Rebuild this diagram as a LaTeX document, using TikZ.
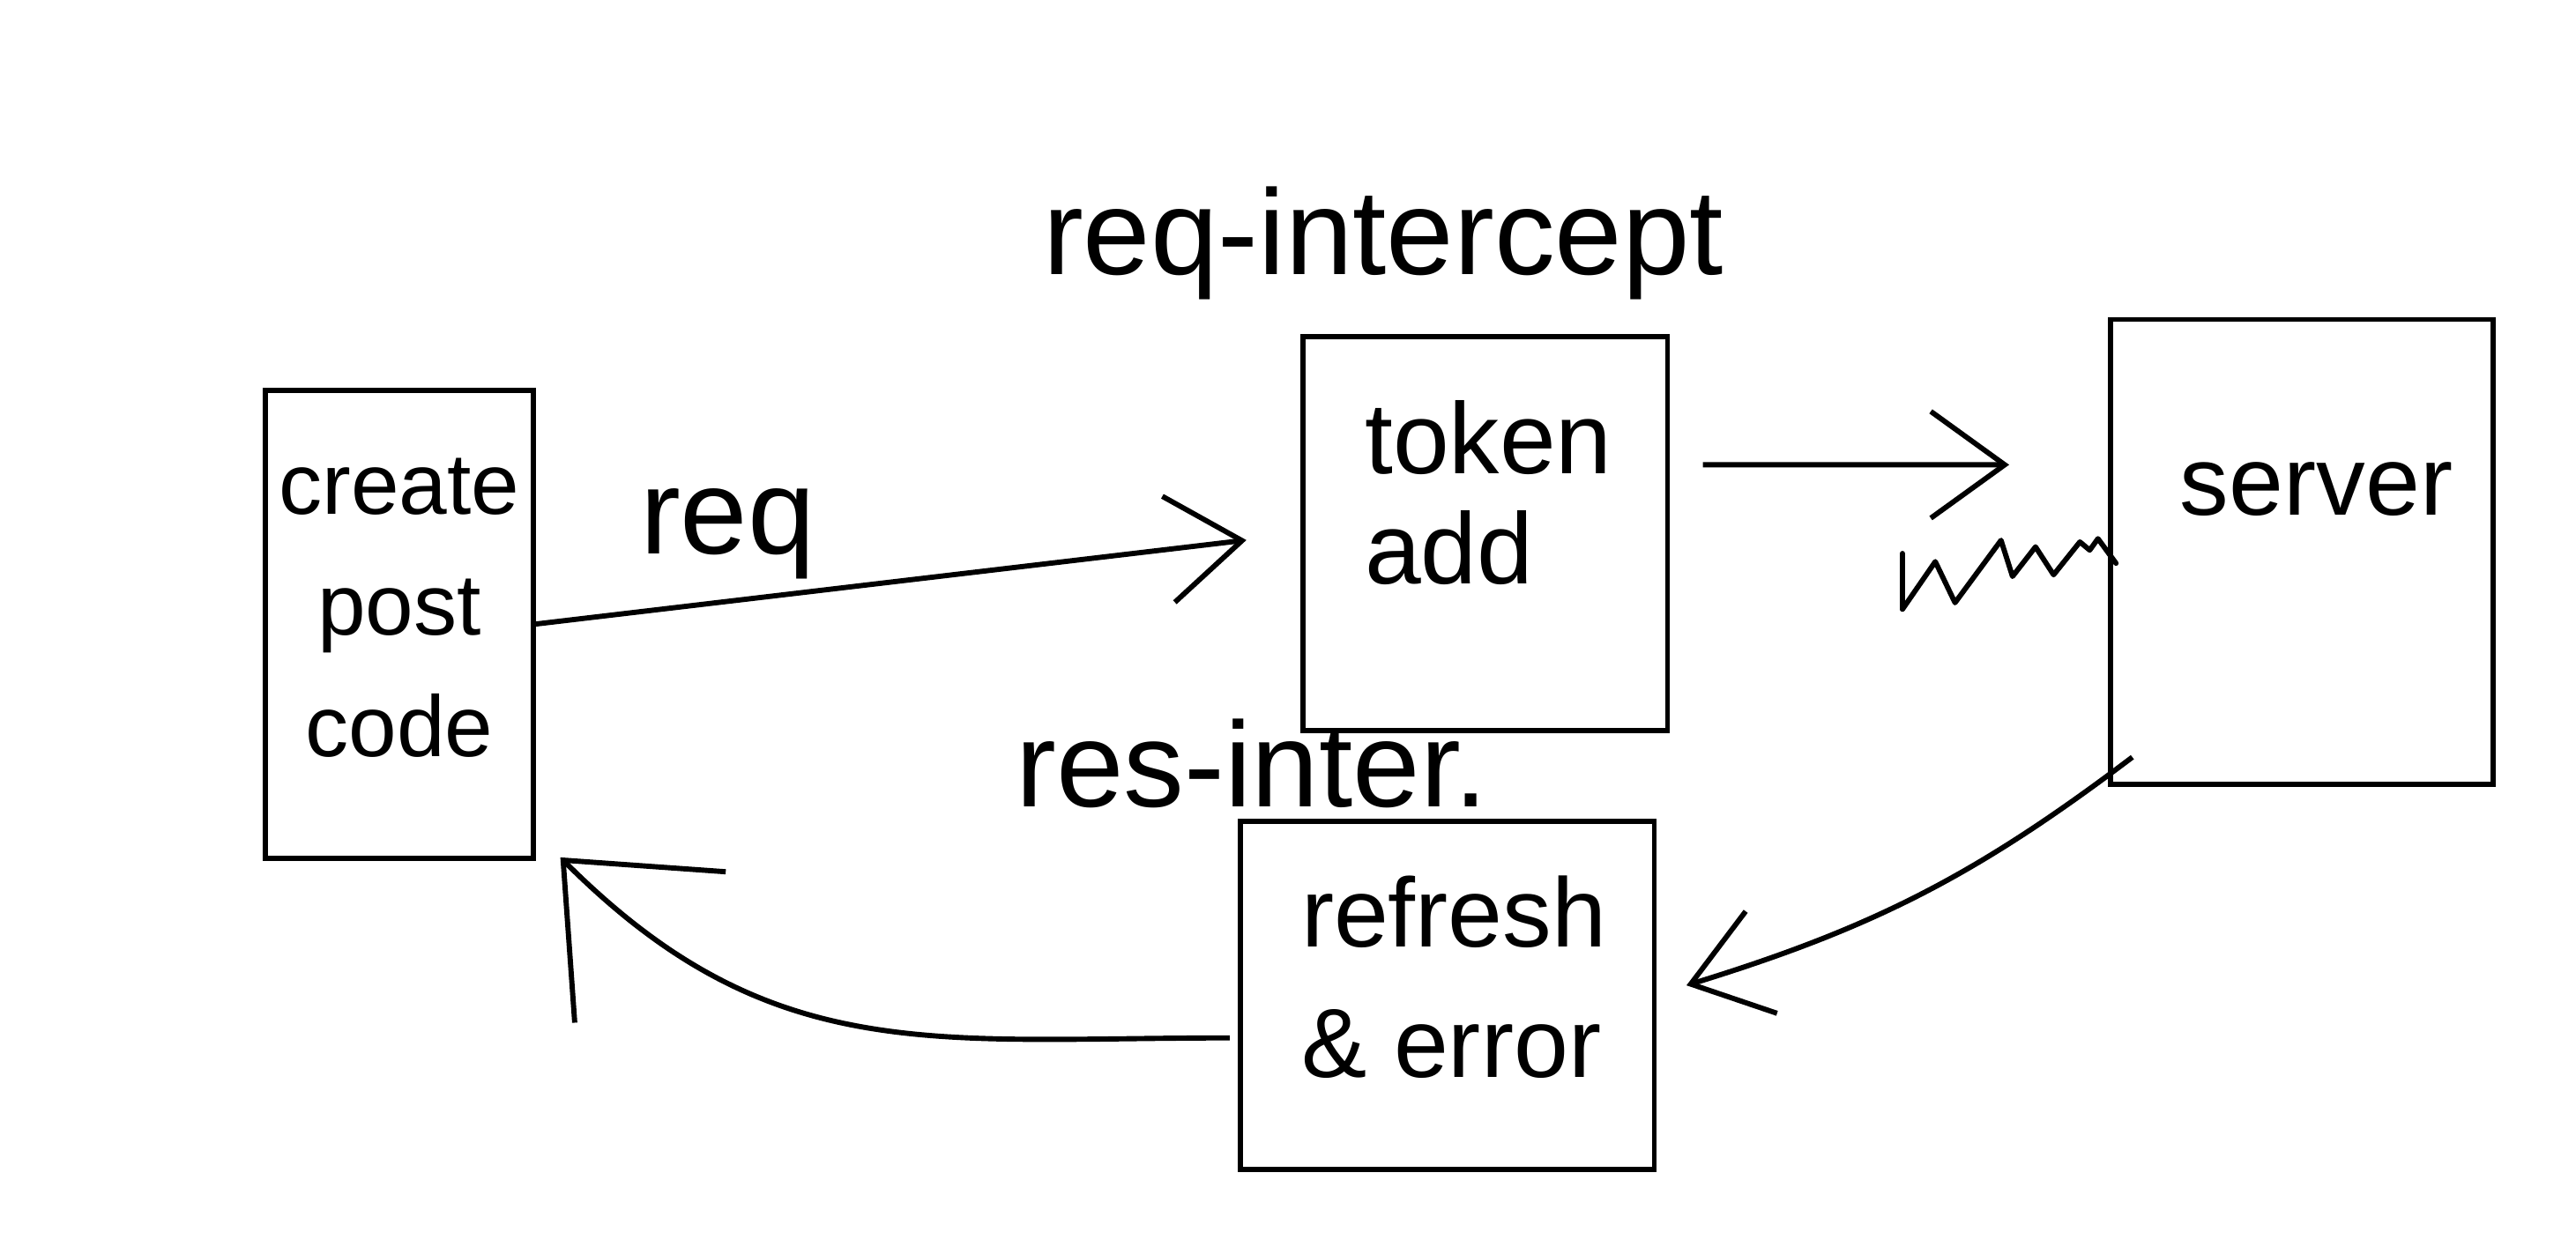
\documentclass[tikz,border=0pt]{standalone}
\usepackage{fontspec}
\setmainfont{Liberation Sans}
\usetikzlibrary{arrows.meta}
\tikzset{
  sketchbox/.style={draw, line width=1.8pt, inner sep=0pt},
  lbl/.style={inner sep=0pt, font=\fontsize{42}{48}\selectfont},
  arr/.style={line width=1.8pt, -{Straight Barb[length=0.9cm,width=1.3cm,line width=1.8pt]}},
  bigarr/.style={line width=1.8pt, -{Straight Barb[length=1.5cm,width=2.6cm,line width=1.8pt]}}
}
\begin{document}
\begin{tikzpicture}[x=0.02cm,y=-0.02cm]
\useasboundingbox (0,0) rectangle (1568,759);
% boxes
\node[sketchbox, minimum width=3.26cm, minimum height=5.7cm] (create) at (243,380) {};
\node[sketchbox, minimum width=4.44cm, minimum height=4.8cm] (token) at (904,325) {};
\node[sketchbox, minimum width=4.66cm, minimum height=5.66cm] (server) at (1401,336) {};
\node[sketchbox, minimum width=5.04cm, minimum height=4.24cm] (refresh) at (881,606) {};
% box texts
\node[inner sep=0pt, align=center, font=\fontsize{30}{42}\selectfont] (createtxt) at (243,370) {create\\post\\code};
\node[inner sep=0pt, align=left, font=\fontsize{35}{38}\selectfont] (tokentxt) at (906,300) {token\\add};
\node[inner sep=0pt, font=\fontsize{34}{40}\selectfont] (servertxt) at (1410,298) {server};
\node[inner sep=0pt, align=left, font=\fontsize{34}{45}\selectfont] (refreshtxt) at (885,595) {refresh\\\& error};
% labels
\node[lbl] (reqint) at (842,148) {req-intercept};
\node[lbl] (req) at (443,325) {req};
\node[lbl] (resint) at (762,465) {res-inter.};
% connectors
\draw[arr, shorten >=0.66cm] (create.east) -- (token.west);
\draw[arr] ([xshift=0.4cm,yshift=0.84cm]token.east) -- ([xshift=-1.2cm,yshift=1.06cm]server.west);
\draw[arr] ([xshift=0.3cm,yshift=0.36cm]server.south west) to[bend left=10] ([xshift=0.36cm,yshift=0.12cm]refresh.east);
\draw[bigarr] ([xshift=-0.1cm,yshift=-0.52cm]refresh.west) to[out=180,in=-45,looseness=1.1] ([xshift=0.3cm,yshift=0.04cm]create.south east);
% www squiggle
\draw[line width=1.8pt, line join=round, line cap=round]
  (1158,337) -- (1158,371) -- (1178,342) -- (1190,367) -- (1218,329) -- (1225,351)
  -- (1239,333) -- (1250,350) -- (1266,330) -- (1272,335) -- (1277,328) -- (1288,343);
\end{tikzpicture}
\end{document}
